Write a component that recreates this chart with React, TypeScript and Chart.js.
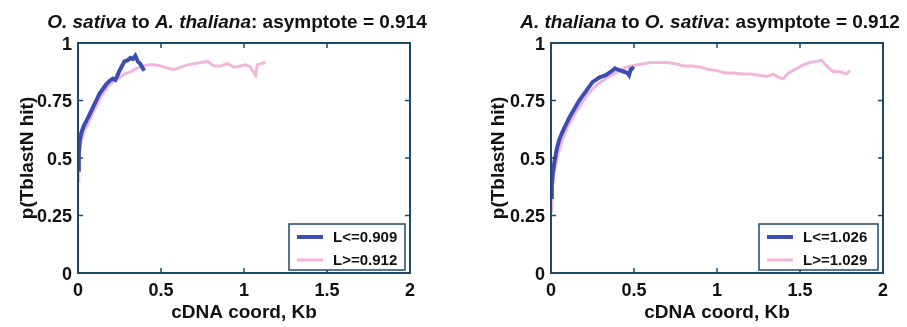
import React, { useEffect, useRef } from "react";
import { Chart, registerables } from "chart.js";
Chart.register(...registerables);

// ---------- data ----------
const xTickValues = [0, 0.5, 1, 1.5, 2];
const xTickLabels = ["0", "0.5", "1", "1.5", "2"];
const yTickValues = [0, 0.25, 0.5, 0.75, 1];
const yTickLabels = ["0", "0.25", "0.5", "0.75", "1"];

const xAxisTitle = "cDNA coord, Kb";
const yAxisTitle = "p(TblastN hit)";

// title segments: [text, italic]
const leftTitle: [string, boolean][] = [
  ["O. sativa", true],
  [" to ", false],
  ["A. thaliana", true],
  [": asymptote = 0.914", false],
];
const rightTitle: [string, boolean][] = [
  ["A. thaliana", true],
  [" to ", false],
  ["O. sativa", true],
  [": asymptote = 0.912", false],
];

const leftLegend = ["L<=0.909", "L>=0.912"];
const rightLegend = ["L<=1.026", "L>=1.029"];

// left panel: O. sativa -> A. thaliana
const leftShortX = [0, 0.005, 0.01, 0.02, 0.035, 0.05, 0.07, 0.09, 0.11, 0.13, 0.15, 0.17, 0.19, 0.21, 0.225, 0.235, 0.25, 0.265, 0.28, 0.3, 0.315, 0.33, 0.345, 0.36, 0.375, 0.39, 0.4];
const leftShortY = [0.45, 0.52, 0.57, 0.61, 0.64, 0.66, 0.69, 0.72, 0.75, 0.78, 0.8, 0.82, 0.835, 0.845, 0.84, 0.855, 0.88, 0.9, 0.92, 0.925, 0.935, 0.93, 0.945, 0.92, 0.91, 0.89, 0.88];
const leftLongX = [0, 0.005, 0.01, 0.02, 0.04, 0.06, 0.08, 0.1, 0.12, 0.14, 0.16, 0.18, 0.2, 0.22, 0.24, 0.26, 0.28, 0.3, 0.32, 0.34, 0.37, 0.4, 0.43, 0.46, 0.5, 0.54, 0.58, 0.62, 0.66, 0.7, 0.74, 0.78, 0.82, 0.86, 0.9, 0.94, 0.98, 1.01, 1.04, 1.06, 1.07, 1.08, 1.1, 1.13];
const leftLongY = [0.4, 0.47, 0.53, 0.58, 0.62, 0.65, 0.68, 0.71, 0.74, 0.77, 0.79, 0.81, 0.825, 0.835, 0.845, 0.855, 0.865, 0.87, 0.875, 0.885, 0.895, 0.9, 0.905, 0.905, 0.9, 0.89, 0.885, 0.895, 0.905, 0.91, 0.915, 0.92, 0.9, 0.9, 0.91, 0.895, 0.9, 0.905, 0.895, 0.87, 0.86, 0.905, 0.91, 0.915];

// right panel: A. thaliana -> O. sativa
const rightShortX = [0, 0.005, 0.01, 0.02, 0.035, 0.05, 0.07, 0.09, 0.11, 0.13, 0.15, 0.17, 0.19, 0.21, 0.23, 0.25, 0.27, 0.29, 0.31, 0.33, 0.35, 0.37, 0.385, 0.4, 0.42, 0.44, 0.46, 0.47, 0.48, 0.49, 0.5];
const rightShortY = [0.33, 0.38, 0.43, 0.48, 0.54, 0.58, 0.615, 0.645, 0.675, 0.7, 0.725, 0.75, 0.77, 0.79, 0.81, 0.83, 0.84, 0.85, 0.855, 0.86, 0.87, 0.88, 0.89, 0.885, 0.88, 0.875, 0.87, 0.86, 0.885, 0.89, 0.885];
const rightLongX = [0, 0.005, 0.01, 0.02, 0.04, 0.06, 0.08, 0.1, 0.13, 0.16, 0.19, 0.22, 0.25, 0.28, 0.31, 0.34, 0.37, 0.4, 0.44, 0.48, 0.52, 0.56, 0.6, 0.65, 0.7, 0.75, 0.8, 0.85, 0.9, 0.95, 1.0, 1.05, 1.1, 1.15, 1.2, 1.25, 1.3, 1.34, 1.37, 1.4, 1.43, 1.47, 1.52, 1.56, 1.6, 1.63, 1.66, 1.7, 1.74, 1.78, 1.8];
const rightLongY = [0.27, 0.33, 0.38, 0.44, 0.51, 0.56, 0.6, 0.635, 0.675, 0.71, 0.745, 0.775, 0.8, 0.82, 0.835, 0.85, 0.86, 0.875, 0.89, 0.9, 0.905, 0.91, 0.915, 0.915, 0.915, 0.91, 0.9, 0.9, 0.895, 0.885, 0.88, 0.87, 0.87, 0.865, 0.865, 0.86, 0.855, 0.865, 0.85, 0.845, 0.87, 0.885, 0.905, 0.915, 0.92, 0.925, 0.9, 0.875, 0.875, 0.865, 0.88];

// ---------- styling ----------
const FONT = '"Liberation Sans", Arial, Helvetica, sans-serif';
const BLUE = "#3b4db3";
const PINK = "#f2b6dc";
const FRAME = "#1e4a6a";
const TEXT = "#111111";

const zip = (xs: number[], ys: number[]) => xs.map((x, i) => ({ x, y: ys[i] }));

type PanelProps = {
  width: number;
  plotLeft: number;
  padRight: number;
  yTitlePad: number;
  title: [string, boolean][];
  legend: string[];
  shortX: number[];
  shortY: number[];
  longX: number[];
  longY: number[];
  legendWidth: number;
};

function Panel(p: PanelProps) {
  const ref = useRef<HTMLCanvasElement | null>(null);
  useEffect(() => {
    if (!ref.current) return;
    const decor = {
      id: "decor",
      afterDraw(chart: any) {
        const ctx = chart.ctx as CanvasRenderingContext2D;
        const a = chart.chartArea;
        const xs = chart.scales.x;
        const ys = chart.scales.y;
        ctx.save();
        // frame
        ctx.strokeStyle = FRAME;
        ctx.lineWidth = 2;
        ctx.strokeRect(a.left, a.top, a.right - a.left, a.bottom - a.top);
        // inward ticks on all sides
        const tl = 5;
        ctx.lineWidth = 1.5;
        ctx.beginPath();
        xTickValues.forEach((v) => {
          const px = xs.getPixelForValue(v);
          ctx.moveTo(px, a.bottom);
          ctx.lineTo(px, a.bottom - tl);
          ctx.moveTo(px, a.top);
          ctx.lineTo(px, a.top + tl);
        });
        yTickValues.forEach((v) => {
          const py = ys.getPixelForValue(v);
          ctx.moveTo(a.left, py);
          ctx.lineTo(a.left + tl, py);
          ctx.moveTo(a.right, py);
          ctx.lineTo(a.right - tl, py);
        });
        ctx.stroke();

        // legend box
        const bw = p.legendWidth;
        const bh = 46;
        const bx = a.right - 5 - bw;
        const by = a.bottom - 3 - bh;
        ctx.fillStyle = "#ffffff";
        ctx.fillRect(bx, by, bw, bh);
        ctx.strokeStyle = FRAME;
        ctx.lineWidth = 1.5;
        ctx.strokeRect(bx, by, bw, bh);
        const dsets = chart.data.datasets;
        ctx.font = `bold 15px ${FONT}`;
        ctx.textBaseline = "middle";
        ctx.textAlign = "left";
        dsets.forEach((d: any, i: number) => {
          const cy = by + 13 + i * 23;
          ctx.strokeStyle = d.borderColor;
          ctx.lineWidth = d.borderWidth;
          ctx.beginPath();
          ctx.moveTo(bx + 8, cy);
          ctx.lineTo(bx + 34, cy);
          ctx.stroke();
          ctx.fillStyle = TEXT;
          ctx.fillText(d.label, bx + 44, cy + 1);
        });

        // title with mixed italic
        const segs = p.title;
        const fontFor = (it: boolean) => `${it ? "italic " : ""}bold 19px ${FONT}`;
        let total = 0;
        segs.forEach(([t, it]) => {
          ctx.font = fontFor(it);
          total += ctx.measureText(t).width;
        });
        let x = (a.left + a.right) / 2 - 7 - total / 2;
        ctx.fillStyle = TEXT;
        ctx.textBaseline = "alphabetic";
        segs.forEach(([t, it]) => {
          ctx.font = fontFor(it);
          ctx.fillText(t, x, 28);
          x += ctx.measureText(t).width;
        });
        ctx.restore();
      },
    };

    const tickFont = { family: FONT, size: 18, weight: "bold" as const };
    const titleFont = { family: FONT, size: 19, weight: "bold" as const };

    const chart = new Chart(ref.current, {
      type: "line",
      data: {
        datasets: [
          {
            label: p.legend[0],
            data: zip(p.shortX, p.shortY),
            borderColor: BLUE,
            backgroundColor: BLUE,
            borderWidth: 4,
            pointRadius: 0,
            tension: 0,
            fill: false,
          },
          {
            label: p.legend[1],
            data: zip(p.longX, p.longY),
            borderColor: PINK,
            backgroundColor: PINK,
            borderWidth: 3,
            pointRadius: 0,
            tension: 0,
            fill: false,
          },
        ],
      },
      options: {
        animation: false,
        responsive: false,
        events: [],
        layout: { padding: { top: 43, right: p.padRight, bottom: 0, left: 0 } },
        plugins: {
          legend: { display: false },
          title: { display: false },
          tooltip: { enabled: false },
        },
        scales: {
          x: {
            type: "linear",
            min: 0,
            max: 2,
            afterBuildTicks: (s: any) => {
              s.ticks = xTickValues.map((v) => ({ value: v }));
            },
            afterFit: (s: any) => {
              s.height = 54;
            },
            ticks: {
              callback: (_v: any, i: number) => xTickLabels[i],
              font: tickFont,
              color: TEXT,
              padding: 7,
              maxRotation: 0,
              autoSkip: false,
            },
            grid: { display: false, drawTicks: false },
            border: { display: false },
            title: {
              display: true,
              text: xAxisTitle,
              font: titleFont,
              color: TEXT,
              padding: { top: 0, bottom: 3 },
            },
          },
          y: {
            type: "linear",
            min: 0,
            max: 1,
            afterBuildTicks: (s: any) => {
              s.ticks = yTickValues.map((v) => ({ value: v }));
            },
            afterFit: (s: any) => {
              s.width = p.plotLeft;
            },
            ticks: {
              callback: (_v: any, i: number) => yTickLabels[i],
              font: tickFont,
              color: TEXT,
              padding: 6,
              labelOffset: 2,
              autoSkip: false,
            },
            grid: { display: false, drawTicks: false },
            border: { display: false },
            title: {
              display: true,
              text: yAxisTitle,
              font: titleFont,
              color: TEXT,
              padding: { top: p.yTitlePad, bottom: 0 },
            },
          },
        },
      },
      plugins: [decor],
    });
    return () => chart.destroy();
  }, []);
  return <canvas ref={ref} width={p.width} height={327} style={{ display: "block" }} />;
}

export default function App() {
  return (
    <div
      style={{
        position: "fixed",
        left: 0,
        top: 0,
        width: 907,
        height: 327,
        background: "#ffffff",
        display: "flex",
      }}
    >
      <Panel
        width={453}
        plotLeft={78}
        padRight={43}
        yTitlePad={16}
        title={leftTitle}
        legend={leftLegend}
        shortX={leftShortX}
        shortY={leftShortY}
        longX={leftLongX}
        longY={leftLongY}
        legendWidth={116}
      />
      <Panel
        width={454}
        plotLeft={98}
        padRight={24}
        yTitlePad={34}
        title={rightTitle}
        legend={rightLegend}
        shortX={rightShortX}
        shortY={rightShortY}
        longX={rightLongX}
        longY={rightLongY}
        legendWidth={119}
      />
    </div>
  );
}
